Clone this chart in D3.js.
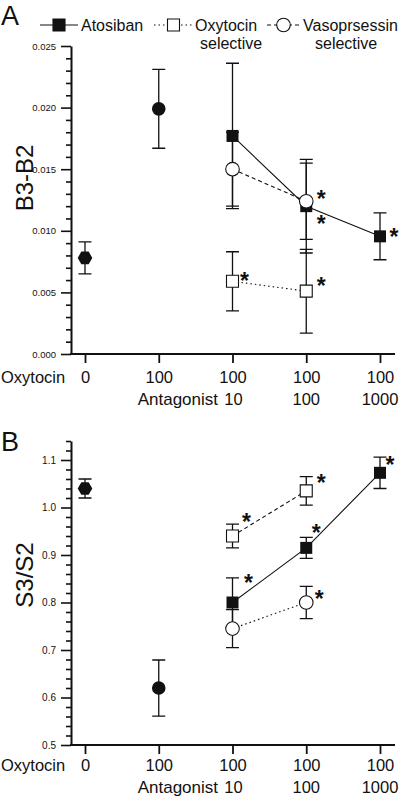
<!DOCTYPE html>
<html><head><meta charset="utf-8">
<script src="https://cdn.jsdelivr.net/npm/d3@7"></script>
<style>body{margin:0;background:#fff} svg{display:block}</style>
</head><body>
<script>
// ---------- DATA ----------
const categories = ["c0", "c1", "c2", "c3", "c4"];
const oxytocinLabels = ["0", "100", "100", "100", "100"];
const antagonistLabels = ["", "", "10", "100", "1000"];
const seriesNames = ["Atosiban", "Oxytocin", "Vasoprsessin"];
const seriesSub = ["", "selective", "selective"];

const atosibanCats = [2, 3, 4];
const selectiveCats = [2, 3];

// Panel A: B3-B2
const ticksA = [0, 0.005, 0.010, 0.015, 0.020, 0.025];
const controlA = [0.0078], controlErrA = [0.0013];      // Oxytocin 0
const oxytocinA = [0.0199], oxytocinErrA = [0.0032];    // Oxytocin 100
const atosibanA = [0.0177, 0.0120, 0.00955];
const atosibanErrA = [0.0059, 0.0038, 0.0019];
const oxySelA = [0.0059, 0.0051];
const oxySelErrA = [0.0024, 0.0034];
const vasoSelA = [0.0150, 0.0124];
const vasoSelErrA = [0.0030, 0.0031];
const starsA = { atosiban: [1, 2], oxySel: [0, 1], vasoSel: [1] };

// Panel B: S3/S2
const ticksB = [0.5, 0.6, 0.7, 0.8, 0.9, 1.0, 1.1];
const controlB = [1.04], controlErrB = [0.02];
const oxytocinB = [0.62], oxytocinErrB = [0.059];
const atosibanB = [0.80, 0.915, 1.073];
const atosibanErrB = [0.052, 0.022, 0.033];
const oxySelB = [0.94, 1.035];
const oxySelErrB = [0.025, 0.030];
const vasoSelB = [0.745, 0.80];
const vasoSelErrB = [0.040, 0.034];
const starsB = { atosiban: [0, 1, 2], oxySel: [0, 1], vasoSel: [1] };

// ---------- LAYOUT ----------
const W = 400, H = 797;
const FONT = "'Liberation Sans', Arial, Helvetica, sans-serif";
const INK = "#111";
const svg = d3.select("body").append("svg").attr("width", W).attr("height", H)
  .style("background", "#fff").attr("font-family", FONT);

const x = d3.scalePoint().domain(categories).range([85, 380]);
const axisX0 = 71, axisX1 = 395;
const LABEL_FS = 16.5;

const starOffsets = {
  A: { atosiban: { 1: [15, 13], 2: [14, -4] }, oxySel: { 0: [12, -5], 1: [15, -10] }, vasoSel: { 1: [15, -7] } },
  B: { atosiban: { 0: [16, -25], 1: [10, -20], 2: [10, -13] }, oxySel: { 0: [14, -19], 1: [15, -13] }, vasoSel: { 1: [13, -9] } }
};

const panels = [
  {
    key: "A", letter: "A", letterY: 25, title: "B3-B2", titleY: 178,
    domain: [0, 0.025], range: [354, 46], ticks: ticksA, fmt: d3.format(".3f"),
    minor: d3.range(0, 26).filter(i => i % 5 !== 0).map(i => i * 0.001),
    tickFont: 9.5, labelPad: 8.5, antY: 405,
    control: controlA, controlErr: controlErrA, oxy: oxytocinA, oxyErr: oxytocinErrA,
    ato: atosibanA, atoErr: atosibanErrA, os: oxySelA, osErr: oxySelErrA,
    vs: vasoSelA, vsErr: vasoSelErrA, stars: starsA,
    osDash: "1.5,3", vsDash: "4,3"
  },
  {
    key: "B", letter: "B", letterY: 451, title: "S3/S2", titleY: 575,
    domain: [0.5, 1.14], range: [745, 441], ticks: ticksB, fmt: d3.format(".1f"),
    minor: d3.range(25, 58).filter(i => i % 5 !== 0).map(i => i * 0.02),
    tickFont: 10, labelPad: 5.5, antY: 793,
    control: controlB, controlErr: controlErrB, oxy: oxytocinB, oxyErr: oxytocinErrB,
    ato: atosibanB, atoErr: atosibanErrB, os: oxySelB, osErr: oxySelErrB,
    vs: vasoSelB, vsErr: vasoSelErrB, stars: starsB,
    osDash: "4,3", vsDash: "1.5,3"
  }
];

const sq = d3.symbol().type(d3.symbolSquare).size(144)();
const circ = d3.symbol().type(d3.symbolCircle).size(Math.PI * 6.8 * 6.8)();
const hexPath = d3.line()(d3.range(6).map(k => {
  const a = k * Math.PI / 3;
  return [7.3 * Math.cos(a), 7.3 * Math.sin(a)];
})) + "Z";

function errorBar(g, cx, y, v, e) {
  const y0 = y(v - e), y1 = y(v + e), hw = 6.5;
  const p = d3.path();
  p.moveTo(cx, y0); p.lineTo(cx, y1);
  p.moveTo(cx - hw, y0); p.lineTo(cx + hw, y0);
  p.moveTo(cx - hw, y1); p.lineTo(cx + hw, y1);
  g.append("path").attr("d", p.toString()).attr("fill", "none")
    .attr("stroke", INK).attr("stroke-width", 1.3);
}

panels.forEach(P => {
  const y = d3.scaleLinear().domain(P.domain).range(P.range);
  const g = svg.append("g");
  const axisY = P.range[0];

  // panel letter
  g.append("text").attr("x", 1).attr("y", P.letterY).attr("font-size", 27)
    .attr("fill", INK).text(P.letter);

  // y axis title
  g.append("text").attr("transform", `translate(33,${P.titleY}) rotate(-90)`)
    .attr("text-anchor", "middle").attr("font-size", 24).attr("fill", INK).text(P.title);

  // y axis major
  const ya = g.append("g").attr("transform", `translate(${axisX0},0)`)
    .call(d3.axisLeft(y).tickValues(P.ticks).tickSize(10).tickSizeOuter(0)
      .tickPadding(5).tickFormat(P.fmt));
  ya.select(".domain").attr("stroke", INK).attr("stroke-width", 2);
  ya.selectAll(".tick line").attr("stroke", INK).attr("stroke-width", 1.6);
  ya.selectAll(".tick text").attr("font-size", P.tickFont).attr("font-family", FONT).attr("fill", INK);
  // y axis minor
  const ym = g.append("g").attr("transform", `translate(${axisX0},0)`)
    .call(d3.axisLeft(y).tickValues(P.minor).tickSize(5).tickFormat(""));
  ym.select(".domain").remove();
  ym.selectAll(".tick line").attr("stroke", INK).attr("stroke-width", 1.6);

  // x axis
  g.append("line").attr("x1", axisX0 - 1).attr("x2", axisX1).attr("y1", axisY).attr("y2", axisY)
    .attr("stroke", INK).attr("stroke-width", 2);
  const xa = g.append("g").attr("transform", `translate(0,${axisY})`)
    .call(d3.axisBottom(x).tickSize(9).tickSizeOuter(0).tickPadding(P.labelPad)
      .tickFormat((d, i) => oxytocinLabels[i]));
  xa.select(".domain").remove();
  xa.selectAll(".tick line").attr("stroke", INK).attr("stroke-width", 1.8);
  xa.selectAll(".tick text").attr("font-size", LABEL_FS).attr("font-family", FONT).attr("fill", INK);
  const rowY = axisY + 9 + P.labelPad + 0.71 * LABEL_FS;
  g.append("text").attr("x", 1).attr("y", rowY).attr("font-size", LABEL_FS).attr("fill", INK).text("Oxytocin");
  g.append("text").attr("x", 218).attr("y", P.antY).attr("text-anchor", "end")
    .attr("font-size", 17).attr("fill", INK).text("Antagonist");
  g.selectAll(".antlab").data(antagonistLabels).join("text")
    .attr("x", (d, i) => x(categories[i]) + (i === 2 ? 1 : 0)).attr("y", P.antY).attr("text-anchor", "middle")
    .attr("font-size", LABEL_FS).attr("fill", INK).text(d => d);

  // connecting lines
  const line = d3.line().x(d => x(categories[d.c])).y(d => y(d.v));
  const ato = atosibanCats.map((c, i) => ({ c, v: P.ato[i], e: P.atoErr[i] }));
  const os = selectiveCats.map((c, i) => ({ c, v: P.os[i], e: P.osErr[i] }));
  const vs = selectiveCats.map((c, i) => ({ c, v: P.vs[i], e: P.vsErr[i] }));
  g.append("path").attr("d", line(ato)).attr("fill", "none").attr("stroke", INK).attr("stroke-width", 1.1);
  g.append("path").attr("d", line(os)).attr("fill", "none").attr("stroke", INK).attr("stroke-width", 1.1).attr("stroke-dasharray", P.osDash);
  g.append("path").attr("d", line(vs)).attr("fill", "none").attr("stroke", INK).attr("stroke-width", 1.1).attr("stroke-dasharray", P.vsDash);

  // error bars
  const ctrl = { c: 0, v: P.control[0], e: P.controlErr[0] };
  const oxy = { c: 1, v: P.oxy[0], e: P.oxyErr[0] };
  [ctrl, oxy, ...ato, ...os, ...vs].forEach(d => errorBar(g, x(categories[d.c]), y, d.v, d.e));

  // markers
  const place = d => `translate(${x(categories[d.c])},${y(d.v)})`;
  g.append("path").attr("d", hexPath).attr("transform", place(ctrl)).attr("fill", INK);
  g.append("path").attr("d", circ).attr("transform", place(oxy)).attr("fill", INK);
  g.selectAll(".os").data(os).join("path").attr("d", sq).attr("transform", place)
    .attr("fill", "#fff").attr("stroke", INK).attr("stroke-width", 1.1);
  g.selectAll(".ato").data(ato).join("path").attr("d", sq).attr("transform", place).attr("fill", INK);
  g.selectAll(".vs").data(vs).join("path").attr("d", circ).attr("transform", place)
    .attr("fill", "#fff").attr("stroke", INK).attr("stroke-width", 1.1);

  // significance asterisks
  const sets = { atosiban: ato, oxySel: os, vasoSel: vs };
  Object.keys(P.stars).forEach(k => {
    P.stars[k].forEach(i => {
      const d = sets[k][i];
      const off = starOffsets[P.key][k][i];
      g.append("text").attr("x", x(categories[d.c]) + off[0]).attr("y", y(d.v) + off[1] + 13)
        .attr("text-anchor", "middle").attr("font-size", 23).attr("font-weight", "bold")
        .attr("fill", INK).text("*");
    });
  });
});

// ---------- LEGEND ----------
const lg = svg.append("g");
const legendLayout = [
  { x0: 40, x1: 78, tx: 81, sx: 0, dash: null, sym: "sq", fill: INK },
  { x0: 154, x1: 193, tx: 195, sx: 5, dash: "1.5,3", sym: "sq", fill: "#fff" },
  { x0: 267, x1: 300, tx: 303, sx: 12, dash: "4,3", sym: "circ", fill: "#fff" }
];
seriesNames.forEach((name, i) => {
  const L = legendLayout[i];
  const ly = 25;
  lg.append("line").attr("x1", L.x0).attr("x2", L.x1).attr("y1", ly).attr("y2", ly)
    .attr("stroke", INK).attr("stroke-width", 1.1).attr("stroke-dasharray", L.dash);
  lg.append("path").attr("d", L.sym === "sq" ? sq : circ)
    .attr("transform", `translate(${(L.x0 + L.x1) / 2},${ly})`)
    .attr("fill", L.fill).attr("stroke", INK).attr("stroke-width", 1.1);
  lg.append("text").attr("x", L.tx).attr("y", ly + 6).attr("font-size", 16).attr("fill", INK).text(name);
  if (seriesSub[i]) {
    lg.append("text").attr("x", L.tx + L.sx).attr("y", ly + 24).attr("font-size", 16).attr("fill", INK).text(seriesSub[i]);
  }
});
</script>
</body></html>
